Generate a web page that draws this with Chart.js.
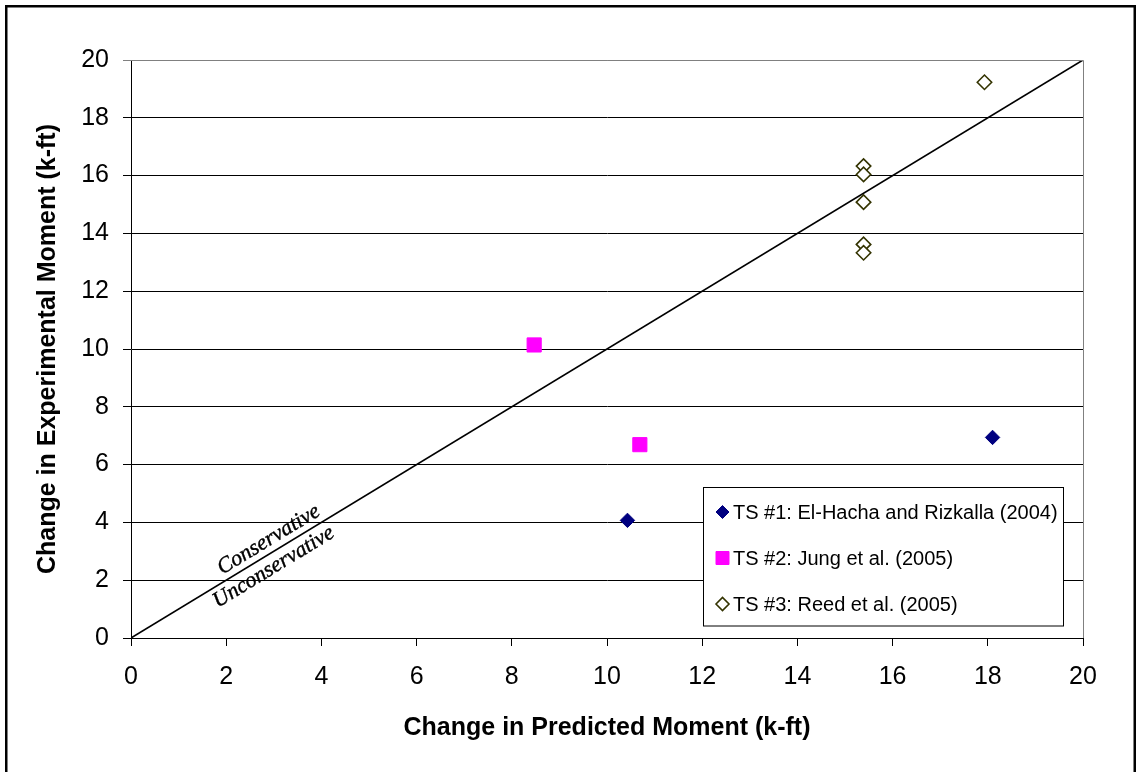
<!DOCTYPE html>
<html>
<head>
<meta charset="utf-8">
<title>Change in Experimental vs Predicted Moment</title>
<script src="https://cdn.jsdelivr.net/npm/chart.js@4.4.1/dist/chart.umd.min.js"></script>
<style>
  html, body { margin: 0; padding: 0; background: #ffffff; }
  #wrap { width: 1136px; height: 772px; position: relative; }
  canvas { display: block; }
</style>
</head>
<body>
<div id="wrap"><canvas id="chart" width="1136" height="772"></canvas></div>
<script>
// Test series: change in predicted moment (x) vs change in experimental moment (y), k-ft
const seriesLabels = [
  'TS #1: El-Hacha and Rizkalla (2004)',
  'TS #2: Jung et al. (2005)',
  'TS #3: Reed et al. (2005)'
];
const ts1Predicted = [10.43, 18.10];
const ts1Experimental = [4.07, 6.94];
const ts2Predicted = [8.47, 10.69];
const ts2Experimental = [10.14, 6.69];
const ts3Predicted = [17.93, 15.39, 15.39, 15.39, 15.39, 15.39];
const ts3Experimental = [19.23, 16.33, 16.04, 15.08, 13.62, 13.33];
// 1:1 reference line (experimental = predicted)
const equalityLine = [0, 20];
const axisTicks = [0, 2, 4, 6, 8, 10, 12, 14, 16, 18, 20];
const xTitle = 'Change in Predicted Moment (k-ft)';
const yTitle = 'Change in Experimental Moment (k-ft)';
const upperRegionLabel = 'Conservative';
const lowerRegionLabel = 'Unconservative';

const toPoints = (xs, ys) => xs.map((x, i) => ({ x: x, y: ys[i] }));

const sansFont = '"Liberation Sans", Arial, sans-serif';
const serifFont = '"Liberation Serif", "Times New Roman", serif';

const markerStyles = [
  { pointStyle: 'rectRot', radius: 7.2, bg: '#000080', border: '#000080', bw: 1 },
  { pointStyle: 'rect', radius: 10, bg: '#FF00FF', border: '#FF00FF', bw: 1 },
  { pointStyle: 'rectRot', radius: 7.2, bg: '#ffffff', border: '#333300', bw: 1.6 }
];

// Page background, outer frame and plot-area frame
const framePlugin = {
  id: 'frame',
  beforeDraw(chart) {
    const ctx = chart.ctx;
    ctx.save();
    ctx.fillStyle = '#ffffff';
    ctx.fillRect(0, 0, chart.width, chart.height);
    ctx.strokeStyle = '#000000';
    ctx.lineWidth = 2.5;
    ctx.strokeRect(6.25, 6.25, 1128.5, 800);
    ctx.restore();
  },
  afterDraw(chart) {
    const a = chart.chartArea;
    const ctx = chart.ctx;
    ctx.save();
    ctx.strokeStyle = '#808080';
    ctx.lineWidth = 1;
    ctx.beginPath();
    ctx.moveTo(a.left, a.top + 0.5);
    ctx.lineTo(a.right + 0.5, a.top + 0.5);
    ctx.lineTo(a.right + 0.5, a.bottom);
    ctx.stroke();
    ctx.restore();
  }
};

// Region labels written along the 1:1 line
const regionLabelPlugin = {
  id: 'regionLabels',
  afterDatasetsDraw(chart) {
    const xs = chart.scales.x, ys = chart.scales.y;
    const x0 = xs.getPixelForValue(equalityLine[0]), y0 = ys.getPixelForValue(equalityLine[0]);
    const x1 = xs.getPixelForValue(equalityLine[1]), y1 = ys.getPixelForValue(equalityLine[1]);
    const ang = Math.atan2(y1 - y0, x1 - x0);
    const ctx = chart.ctx;
    const put = (text, along, offset) => {
      const px = xs.getPixelForValue(along), py = ys.getPixelForValue(along);
      ctx.save();
      ctx.translate(px, py);
      ctx.rotate(ang);
      ctx.font = 'italic 22px ' + serifFont;
      ctx.fillStyle = '#000000';
      ctx.strokeStyle = '#000000';
      ctx.lineWidth = 0.4;
      ctx.textAlign = 'center';
      ctx.textBaseline = 'middle';
      ctx.fillText(text, 0, offset);
      ctx.strokeText(text, 0, offset);
      ctx.restore();
    };
    put(upperRegionLabel, 3.03, -12.5);
    put(lowerRegionLabel, 2.85, 13.5);
  }
};

// Boxed legend inside the plot area
const boxLegendPlugin = {
  id: 'boxLegend',
  afterDraw(chart) {
    const ctx = chart.ctx;
    const box = { left: 703.5, top: 487.5, width: 360, height: 138.5 };
    const rows = [512, 558, 604];
    ctx.save();
    ctx.fillStyle = '#ffffff';
    ctx.fillRect(box.left, box.top, box.width, box.height);
    ctx.strokeStyle = '#000000';
    ctx.lineWidth = 1;
    ctx.strokeRect(box.left, box.top, box.width, box.height);
    seriesLabels.forEach((label, i) => {
      const m = markerStyles[i];
      const cx = 722.5, cy = rows[i];
      ctx.fillStyle = m.bg;
      ctx.strokeStyle = m.border;
      ctx.lineWidth = m.bw;
      ctx.beginPath();
      if (m.pointStyle === 'rect') {
        ctx.rect(cx - 6.5, cy - 6.5, 13, 13);
      } else {
        const r = 6.5;
        ctx.moveTo(cx - r, cy);
        ctx.lineTo(cx, cy - r);
        ctx.lineTo(cx + r, cy);
        ctx.lineTo(cx, cy + r);
        ctx.closePath();
      }
      ctx.fill();
      ctx.stroke();
      ctx.fillStyle = '#000000';
      ctx.font = '20px ' + sansFont;
      ctx.textAlign = 'left';
      ctx.textBaseline = 'middle';
      ctx.fillText(label, 733, cy + 1);
    });
    ctx.restore();
  }
};

const scatterSets = [
  toPoints(ts1Predicted, ts1Experimental),
  toPoints(ts2Predicted, ts2Experimental),
  toPoints(ts3Predicted, ts3Experimental)
].map((pts, i) => ({
  type: 'scatter',
  label: seriesLabels[i],
  data: pts,
  pointStyle: markerStyles[i].pointStyle,
  pointRadius: markerStyles[i].radius,
  pointHoverRadius: markerStyles[i].radius,
  backgroundColor: markerStyles[i].bg,
  borderColor: markerStyles[i].border,
  pointBorderWidth: markerStyles[i].bw,
  order: 1
}));

new Chart(document.getElementById('chart'), {
  data: {
    datasets: [
      {
        type: 'line',
        label: '1:1',
        data: toPoints(equalityLine, equalityLine),
        borderColor: '#000000',
        borderWidth: 1.6,
        pointRadius: 0,
        fill: false,
        order: 2
      },
      ...scatterSets
    ]
  },
  options: {
    responsive: false,
    animation: false,
    events: [],
    layout: { padding: { left: 0, top: 60, right: 53, bottom: 0 } },
    plugins: {
      legend: { display: false },
      tooltip: { enabled: false }
    },
    scales: {
      x: {
        type: 'linear',
        position: 'bottom',
        min: 0,
        max: 20,
        afterBuildTicks(scale) { scale.ticks = axisTicks.map(v => ({ value: v })); },
        afterFit(scale) { scale.height = 134; },
        ticks: {
          color: '#000000',
          font: { family: sansFont, size: 25 },
          padding: 16,
          maxRotation: 0
        },
        grid: {
          display: true,
          drawOnChartArea: false,
          drawTicks: true,
          tickLength: 8,
          color: '#000000',
          lineWidth: 1
        },
        border: { display: true, color: '#000000', width: 1 },
        title: {
          display: true,
          text: xTitle,
          color: '#000000',
          font: { family: sansFont, size: 25, weight: 'bold', lineHeight: 1.2 },
          padding: { top: 0, bottom: 29 }
        }
      },
      y: {
        type: 'linear',
        position: 'left',
        min: 0,
        max: 20,
        afterBuildTicks(scale) { scale.ticks = axisTicks.map(v => ({ value: v })); },
        afterFit(scale) { scale.width = 131; },
        ticks: {
          color: '#000000',
          font: { family: sansFont, size: 25 },
          padding: 14
        },
        grid: {
          display: true,
          drawOnChartArea: true,
          drawTicks: true,
          tickLength: 8,
          color: (c) => (c.tick && c.tick.value === 20 ? '#808080' : '#000000'),
          lineWidth: 1
        },
        border: { display: true, color: '#000000', width: 1 },
        title: {
          display: true,
          text: yTitle,
          color: '#000000',
          font: { family: sansFont, size: 25, weight: 'bold', lineHeight: 1.2 },
          padding: { top: 33, bottom: 0 }
        }
      }
    }
  },
  plugins: [framePlugin, regionLabelPlugin, boxLegendPlugin]
});
</script>
</body>
</html>
